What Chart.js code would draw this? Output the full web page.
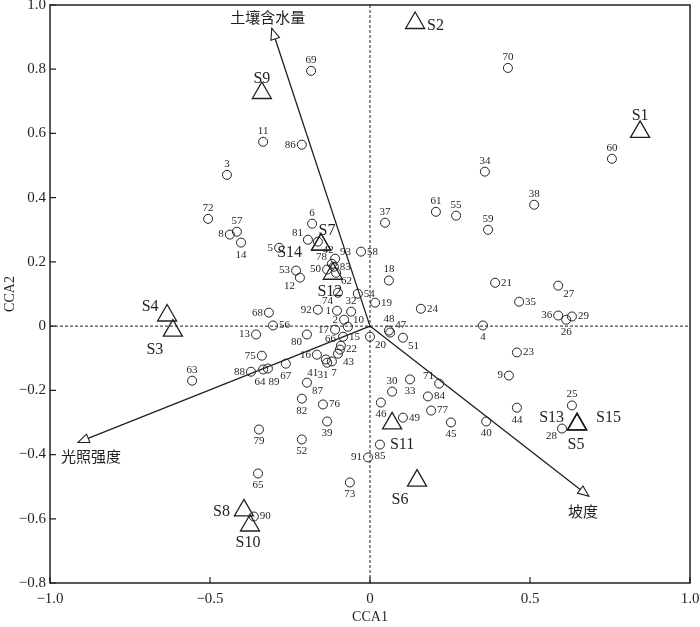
<!DOCTYPE html>
<html>
<head>
<meta charset="utf-8">
<script src="https://cdn.jsdelivr.net/npm/chart.js@4"></script>
<style>
  html, body { margin: 0; padding: 0; background: #fff; }
  canvas { display: block; }
</style>
</head>
<body>
<canvas id="cca" width="700" height="627"></canvas>
<script>
// species scores (circles), numbered 1..93
const speciesIds = [];
for (let i = 1; i <= 93; i++) speciesIds.push(String(i));
const speciesX = [
  -0.103, -0.081, -0.447, 0.353, -0.284, -0.181, -0.119, -0.438, 0.434, -0.069,
  -0.334, -0.219, -0.356, -0.403, -0.084, -0.166, -0.109, 0.059, 0.016, 0.000,
  0.391, -0.094, 0.459, 0.159, 0.631, 0.613, 0.588, 0.600, 0.631, 0.069,
  -0.134, -0.059, 0.125, 0.359, 0.466, 0.588, 0.047, 0.513, -0.134, 0.363,
  -0.138, -0.163, -0.100, 0.459, 0.253, 0.034, 0.063, 0.059, 0.103, -0.134,
  0.103, -0.213, -0.231, -0.038, 0.269, -0.303, -0.416, -0.028, 0.369, 0.756,
  0.206, -0.106, -0.556, -0.334, -0.350, -0.091, -0.263, -0.316, -0.184, 0.431,
  0.216, -0.506, -0.063, -0.100, -0.338, -0.147, 0.191, -0.119, -0.347, -0.197,
  -0.194, -0.213, -0.113, 0.181, 0.031, -0.213, -0.197, -0.372, -0.319, -0.363,
  -0.006, -0.163, -0.109
];
const speciesY = [
  0.048, 0.020, 0.471, 0.002, 0.244, 0.319, -0.110, 0.285, -0.154, -0.002,
  0.574, 0.151, -0.026, 0.260, -0.033, -0.089, -0.011, 0.142, 0.073, -0.033,
  0.135, -0.073, -0.082, 0.054, -0.247, 0.020, 0.126, -0.319, 0.030, -0.204,
  -0.114, 0.045, -0.166, 0.481, 0.076, 0.033, 0.322, 0.378, -0.297, -0.297,
  -0.104, 0.263, -0.086, -0.254, -0.300, -0.238, -0.020, -0.014, -0.285, 0.176,
  -0.036, -0.353, 0.173, 0.101, 0.344, 0.002, 0.294, 0.232, 0.300, 0.521,
  0.356, 0.166, -0.170, -0.135, -0.459, -0.061, -0.117, 0.042, 0.795, 0.804,
  -0.179, 0.334, -0.487, 0.104, -0.092, -0.244, -0.263, 0.194, -0.322, -0.026,
  0.269, -0.226, 0.185, -0.219, -0.369, 0.565, -0.176, -0.142, -0.132, -0.593,
  -0.409, 0.051, 0.210
];

// sample sites (triangles)
const siteNames = ["S1","S2","S3","S4","S5","S6","S7","S8","S9","S10","S11","S12","S13","S14","S15"];
const siteX = [0.844, 0.141, -0.616, -0.634, 0.647, 0.147, -0.153, -0.394, -0.338, -0.375, 0.069, -0.116, 0.647, -0.153, 0.647];
const siteY = [0.605, 0.944, -0.014, 0.033, -0.306, -0.481, 0.254, -0.574, 0.726, -0.621, -0.303, 0.163, -0.306, 0.254, -0.306];

// environmental vectors
const envNames = ["土壤含水量", "光照强度", "坡度"];
const envX = [-0.307, -0.9125, 0.684];
const envY = [0.927, -0.362, -0.530];

// axis ticks
const xTicks = [-1, -0.5, 0, 0.5, 1];
const yTicks = [-0.8, -0.6, -0.4, -0.2, 0, 0.2, 0.4, 0.6, 0.8, 1.0];

// ---- label placement (layout only) ----
const spot = {
  n: [0, -11, "center"], s: [0, 12, "center"], e: [6, 0, "left"], w: [-6, 0, "right"],
  ne: [5, -7, "left"], nw: [-5, -7, "right"], se: [5, 8, "left"], sw: [-5, 8, "right"]
};
const speciesSpot = {
  1:"w",2:"w",3:"n",4:"s",5:"w",6:"n",7:[2,12,"center"],8:"w",9:"w",10:"ne",
  11:"n",12:"sw",13:"w",14:"s",15:"e",16:"w",17:"w",18:"n",19:"e",20:"se",
  21:"e",22:"e",23:"e",24:"e",25:"n",26:"s",27:"se",28:"sw",29:"e",30:"n",
  31:[-4,12,"center"],32:"n",33:"s",34:"n",35:"e",36:"w",37:"n",38:"n",39:"s",40:"s",
  41:[-13,14,"center"],42:"se",43:"se",44:"s",45:"s",46:"s",47:"ne",48:"n",49:"e",50:"w",
  51:"se",52:"s",53:"w",54:"e",55:"n",56:"e",57:"n",58:"e",59:"n",60:"n",
  61:"n",62:"se",63:"n",64:[-3,13,"center"],65:"s",66:"nw",67:"s",68:"w",69:"n",70:"n",
  71:"nw",72:"n",73:"s",74:"sw",75:"w",76:"e",77:"e",78:"nw",79:"s",80:"sw",
  81:"nw",82:"s",83:"e",84:"e",85:"s",86:"w",87:"se",88:"w",89:[6,14,"center"],90:"e",
  91:"w",92:"w",93:"ne"
};
const siteOffset = {
  S1:[0,-16,"center"], S2:[12,3,"left"], S3:[-18,19,"center"], S4:[-17,-9,"center"],
  S5:[-1,20,"center"], S6:[-17,19,"center"], S7:[6,-14,"center"], S8:[-14,1,"right"],
  S9:[0,-14,"center"], S10:[-2,17,"center"], S11:[10,21,"center"], S12:[-3,18,"center"],
  S13:[-13,-7,"right"], S14:[-19,8,"right"], S15:[19,-7,"left"]
};
const envOffset = [[-4,-11], [13,14], [-6,15]];

const INK = "#231f20";
const SERIF = "'Liberation Serif', 'DejaVu Serif', serif";
const CJK = "'Noto Sans CJK SC', sans-serif";

function fmt(v) {
  const r = Math.round(v * 10) / 10;
  if (r === 0) return "0";
  return (r < 0 ? "\u2212" : "") + Math.abs(r).toFixed(1);
}

const decor = {
  id: "decor",
  beforeDatasetsDraw(chart) {
    const { ctx, chartArea: a, scales: { x, y } } = chart;
    ctx.save();
    // dashed zero lines
    ctx.strokeStyle = INK;
    ctx.lineWidth = 1;
    ctx.setLineDash([3, 2]);
    const x0 = x.getPixelForValue(0), y0 = y.getPixelForValue(0);
    ctx.beginPath();
    ctx.moveTo(a.left, y0); ctx.lineTo(a.right, y0);
    ctx.moveTo(x0, a.top); ctx.lineTo(x0, a.bottom);
    ctx.stroke();
    ctx.setLineDash([]);
    // frame
    ctx.lineWidth = 1.5;
    ctx.strokeRect(a.left, a.top, a.right - a.left, a.bottom - a.top);
    // inward ticks
    ctx.lineWidth = 1.2;
    ctx.beginPath();
    xTicks.forEach(v => {
      const px = x.getPixelForValue(v);
      ctx.moveTo(px, a.bottom); ctx.lineTo(px, a.bottom - 6);
    });
    yTicks.forEach(v => {
      const py = y.getPixelForValue(v);
      ctx.moveTo(a.left, py); ctx.lineTo(a.left + 6, py);
    });
    ctx.stroke();
    ctx.restore();
  },
  afterDatasetsDraw(chart) {
    const { ctx, scales: { x, y } } = chart;
    ctx.save();
    // arrow heads (hollow)
    ctx.strokeStyle = INK;
    ctx.lineWidth = 1.1;
    envNames.forEach((name, i) => {
      const ox = x.getPixelForValue(0), oy = y.getPixelForValue(0);
      const tx = x.getPixelForValue(envX[i]), ty = y.getPixelForValue(envY[i]);
      const ang = Math.atan2(ty - oy, tx - ox);
      const len = 11, half = 4.5;
      const bx = tx - Math.cos(ang) * len, by = ty - Math.sin(ang) * len;
      ctx.fillStyle = "#fff";
      ctx.beginPath();
      ctx.moveTo(tx, ty);
      ctx.lineTo(bx - Math.sin(ang) * half, by + Math.cos(ang) * half);
      ctx.lineTo(bx + Math.sin(ang) * half, by - Math.cos(ang) * half);
      ctx.closePath();
      ctx.fill();
      ctx.stroke();
      ctx.fillStyle = INK;
      ctx.font = "15px " + CJK;
      ctx.textAlign = "center";
      ctx.textBaseline = "middle";
      ctx.fillText(name, tx + envOffset[i][0], ty + envOffset[i][1]);
    });
    // species labels
    ctx.fillStyle = INK;
    ctx.textBaseline = "middle";
    ctx.font = "11px " + SERIF;
    speciesIds.forEach((id, i) => {
      let s = speciesSpot[id] || "n";
      if (typeof s === "string") s = spot[s];
      ctx.textAlign = s[2];
      ctx.fillText(id, x.getPixelForValue(speciesX[i]) + s[0], y.getPixelForValue(speciesY[i]) + s[1]);
    });
    // site labels
    ctx.font = "16px " + SERIF;
    siteNames.forEach((name, i) => {
      const s = siteOffset[name];
      ctx.textAlign = s[2];
      ctx.fillText(name, x.getPixelForValue(siteX[i]) + s[0], y.getPixelForValue(siteY[i]) + s[1]);
    });
    ctx.restore();
  }
};

const envSets = envNames.map((name, i) => ({
  label: name,
  type: "line",
  data: [{ x: 0, y: 0 }, { x: envX[i], y: envY[i] }],
  borderColor: INK,
  borderWidth: 1.3,
  pointRadius: 0,
  fill: false
}));

new Chart(document.getElementById("cca"), {
  type: "scatter",
  data: {
    datasets: [
      ...envSets,
      {
        label: "species",
        data: speciesX.map((v, i) => ({ x: v, y: speciesY[i] })),
        pointStyle: "circle",
        pointRadius: 4.5,
        backgroundColor: "rgba(0,0,0,0)",
        borderColor: INK,
        borderWidth: 1
      },
      {
        label: "sites",
        data: siteX.map((v, i) => ({ x: v, y: siteY[i] })),
        pointStyle: "triangle",
        pointRadius: 11,
        backgroundColor: "rgba(0,0,0,0)",
        borderColor: INK,
        borderWidth: 1.3
      }
    ]
  },
  options: {
    responsive: false,
    animation: false,
    devicePixelRatio: 1,
    layout: { autoPadding: false, padding: { top: 5, right: 10, left: 0, bottom: 0 } },
    plugins: { legend: { display: false }, tooltip: { enabled: false } },
    scales: {
      x: {
        type: "linear",
        min: -1, max: 1,
        afterFit: s => { s.height = 44; s.paddingLeft = 0; s.paddingRight = 0; },
        afterBuildTicks: s => { s.ticks = xTicks.map(v => ({ value: v })); },
        grid: { display: false, drawTicks: false },
        border: { display: false },
        ticks: { color: INK, padding: 7, font: { family: SERIF, size: 15 }, callback: v => fmt(v) },
        title: { display: true, text: "CCA1", color: INK, font: { family: SERIF, size: 14 }, padding: { top: 0, bottom: 1 } }
      },
      y: {
        type: "linear",
        min: -0.8, max: 1.0,
        afterFit: s => { s.width = 50; s.paddingTop = 0; s.paddingBottom = 0; },
        afterBuildTicks: s => { s.ticks = yTicks.map(v => ({ value: v })); },
        grid: { display: false, drawTicks: false },
        border: { display: false },
        ticks: { color: INK, padding: 4, font: { family: SERIF, size: 15 }, callback: v => fmt(v) },
        title: { display: true, text: "CCA2", color: INK, font: { family: SERIF, size: 14 }, padding: { top: 2, bottom: 0 } }
      }
    }
  },
  plugins: [decor]
});
</script>
</body>
</html>
